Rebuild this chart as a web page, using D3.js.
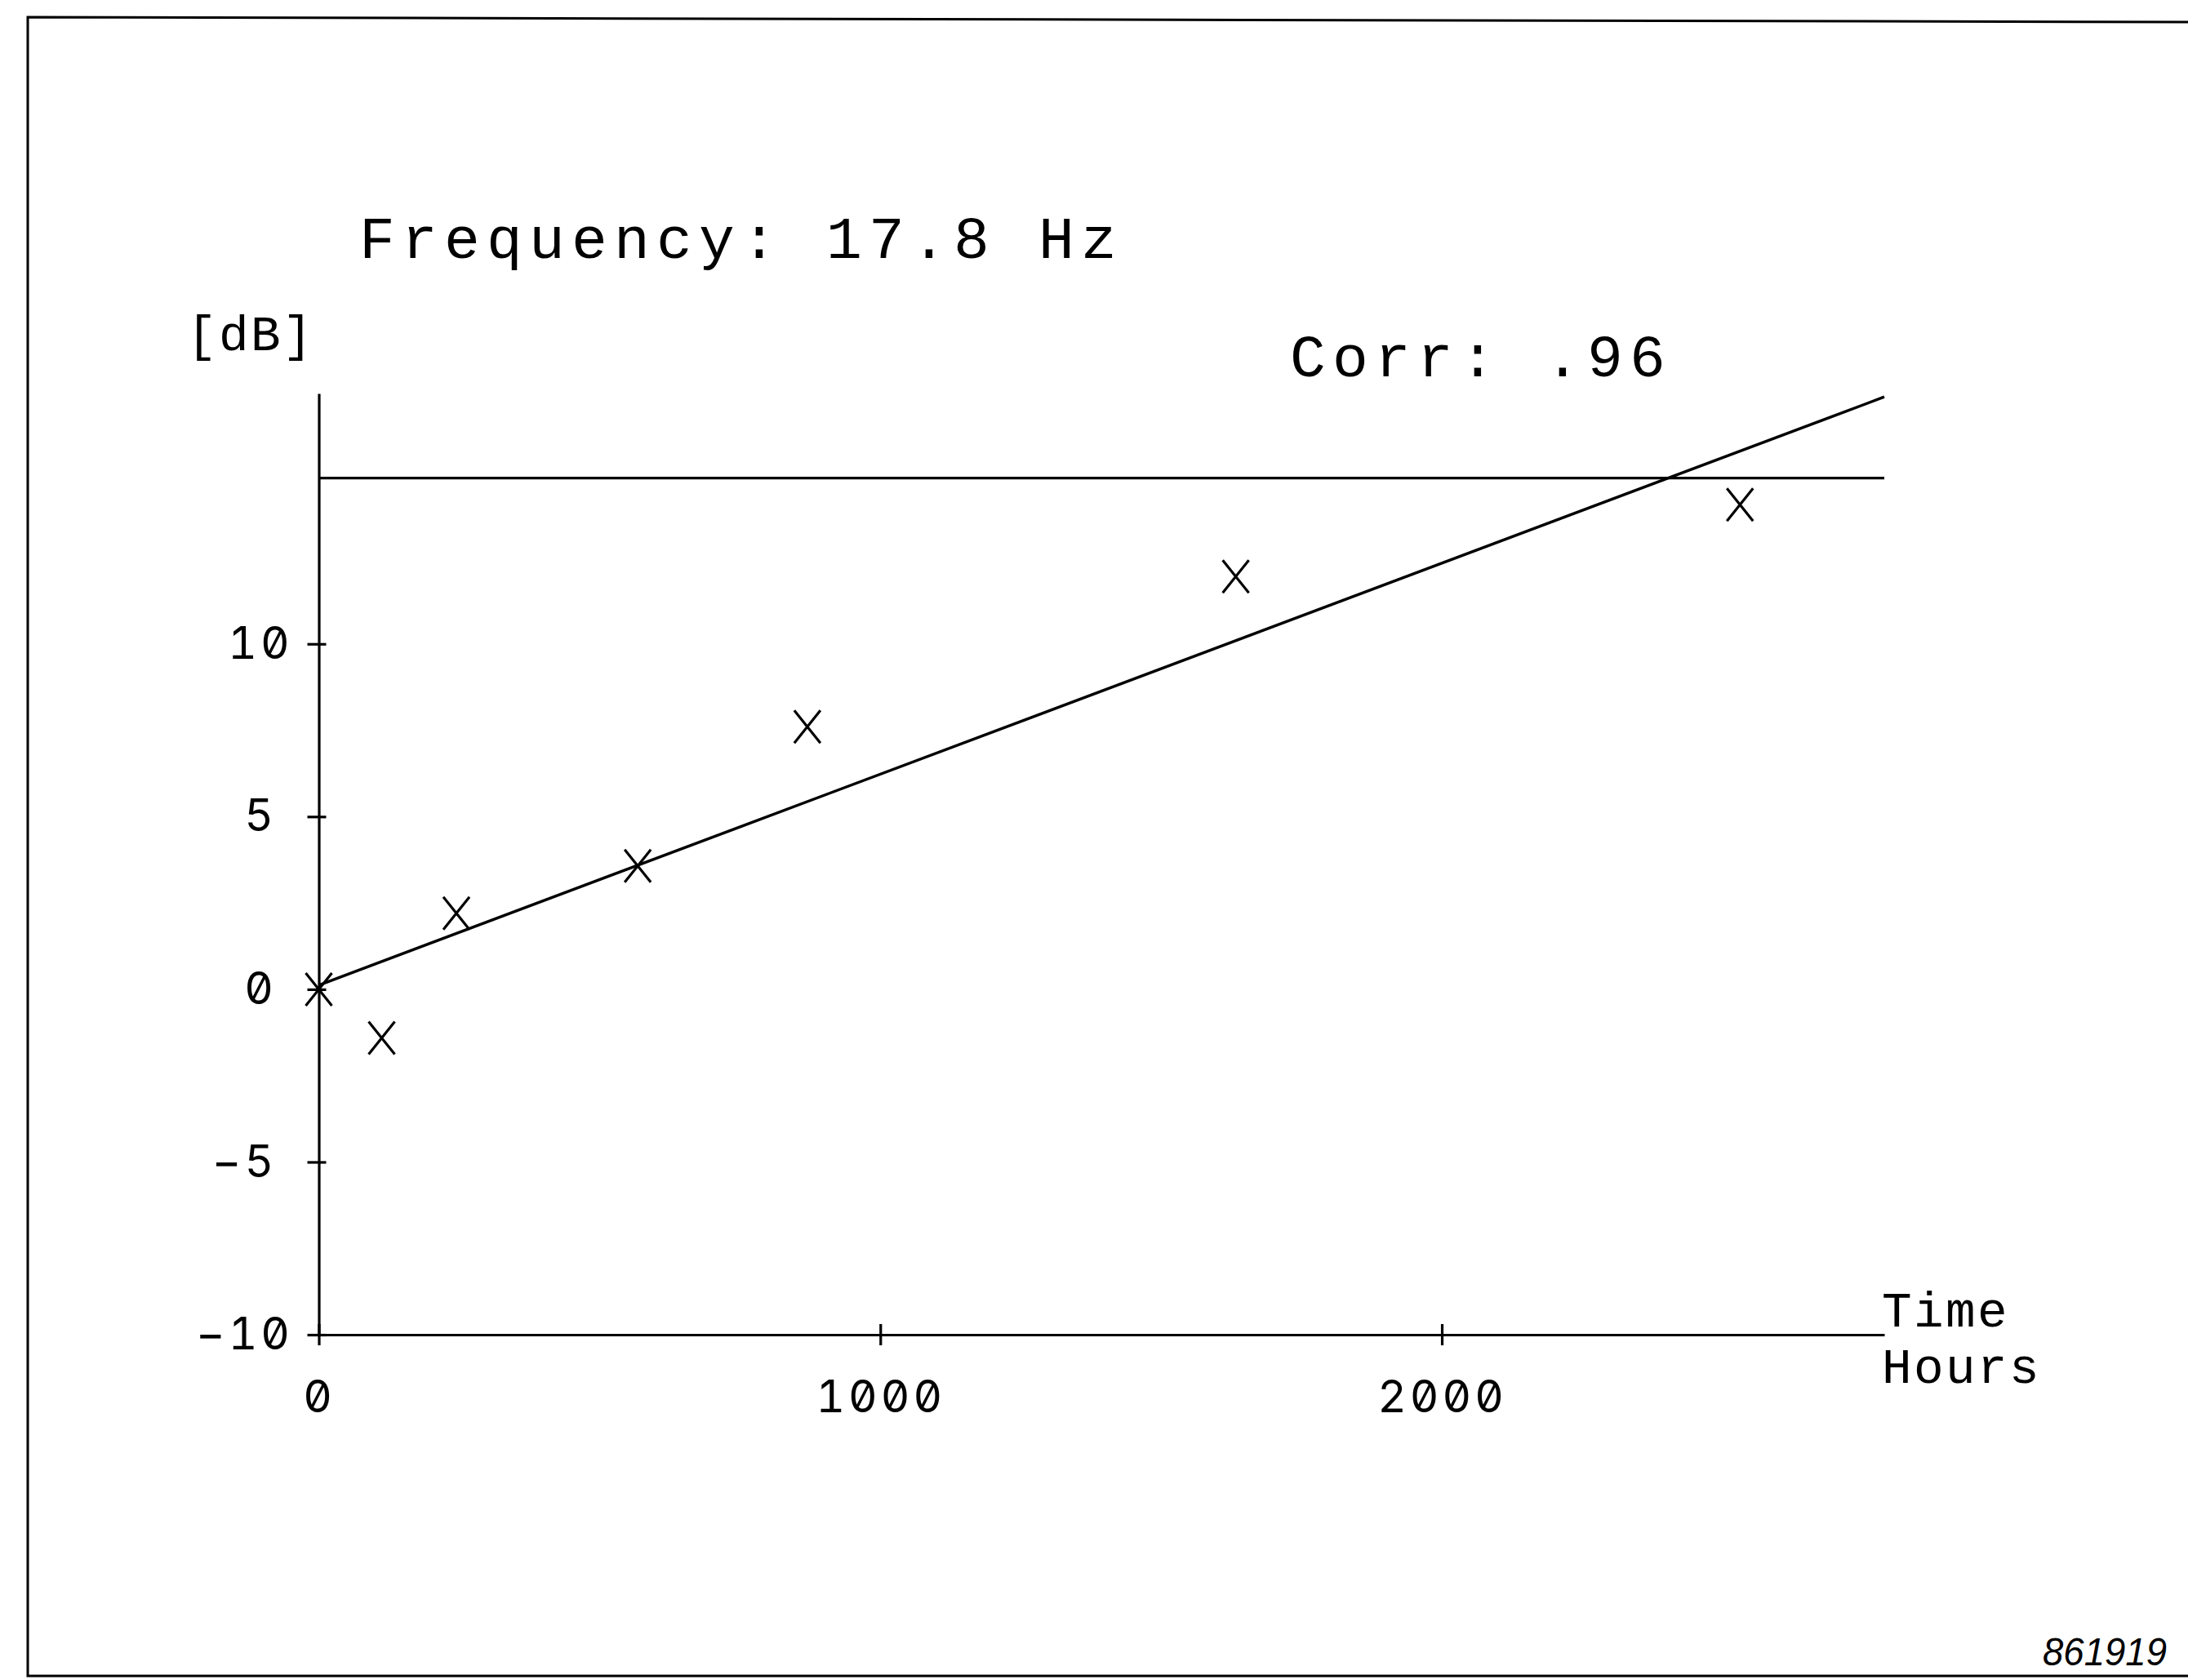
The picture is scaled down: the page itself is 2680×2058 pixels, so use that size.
<!DOCTYPE html>
<html>
<head>
<meta charset="utf-8">
<script src="https://cdn.jsdelivr.net/npm/d3@7"></script>
<style>
	body { margin: 0; background: #fff; }
	svg text { font-family: "Liberation Mono", "DejaVu Sans Mono", monospace; fill: #000; }
	svg .tick text { font-family: Inter, "Liberation Mono", monospace; font-feature-settings: "zero" 1, "tnum" 1; font-variant-numeric: slashed-zero tabular-nums; }
</style>
</head>
<body>
<div class="plot"></div>
<script>
//Measured points (hours, dB)
const hours = [0, 112, 245, 568, 870, 1633, 2531];
const dB = [0, -1.41, 2.2, 3.57, 7.6, 11.95, 14.03];

//Regression line end points + limit line
const fitHours = [0, 2788];
const fitdB = [0.12, 17.15];
const limitdB = 14.8;

//Axis extents and ticks
const xMax = 2788;
const yMin = -10;
const yMax = 17.25;
const xTicks = [0, 1000, 2000];
const yTicks = [-10, -5, 0, 5, 10];

//Texts
const title = 'Frequency: 17.8 Hz';
const corrLabel = 'Corr: .96';
const yUnit = '[dB]';
const xLabel = ['Time', 'Hours'];
const figId = '861919';

//Set SVG
const width = 2680;
const height = 2058;
const svg = d3.select('.plot')
	.append('svg')
	.attr('width', width)
	.attr('height', height)
	.style('display', 'block');

svg.append('rect').attr('width', width).attr('height', height).attr('fill', '#fff');

//Page frame
svg.append('path')
	.attr('d', 'M2680,27 L34,21 L34,2053 L2680,2053')
	.attr('fill', 'none')
	.attr('stroke', '#000')
	.attr('stroke-width', 3);

//Scales
const x = d3.scaleLinear().domain([0, xMax]).range([390.5, 2308]);
const y = d3.scaleLinear().domain([yMin, yMax]).range([1635, 482]);

//plotter style minus
const fmt = d => d < 0 ? '\u2212' + Math.abs(d) : String(d);

//Y axis
const yAxis = svg.append('g')
	.attr('transform', `translate(${x(0)},0)`)
	.call(d3.axisLeft(y).tickValues(yTicks).tickSizeInner(14).tickSizeOuter(0).tickFormat(fmt));
yAxis.selectAll('.tick line').attr('x1', 9);
//labels sit centred on the number, the minus sign hangs to the left
yAxis.selectAll('.tick text')
	.attr('text-anchor', 'middle')
	.attr('x', d => (319 - x(0)) - (d < 0 ? 19.5 : 0));

//X axis
const xAxis = svg.append('g')
	.attr('transform', `translate(0,${y(yMin)})`)
	.call(d3.axisBottom(x).tickValues(xTicks).tickSizeInner(13).tickSizeOuter(0).tickPadding(43).tickFormat(fmt));
xAxis.selectAll('.tick line').attr('y1', -13);

svg.selectAll('.domain, .tick line')
	.attr('stroke', '#000')
	.attr('stroke-width', 3.2);
svg.selectAll('.tick text')
	.attr('font-size', 55)
	.attr('letter-spacing', 4)
	.attr('fill', '#000');

//Limit line
svg.append('line')
	.attr('x1', x(0))
	.attr('x2', x(xMax))
	.attr('y1', y(limitdB))
	.attr('y2', y(limitdB))
	.attr('stroke', '#000')
	.attr('stroke-width', 3.2);

//Regression line
svg.append('line')
	.attr('x1', x(fitHours[0]))
	.attr('y1', y(fitdB[0]))
	.attr('x2', x(fitHours[1]))
	.attr('y2', y(fitdB[1]))
	.attr('stroke', '#000')
	.attr('stroke-width', 3.5);

//X markers
svg.selectAll('path.marker')
	.data(hours.map((h, i) => [h, dB[i]]))
	.enter()
	.append('path')
	.attr('class', 'marker')
	.attr('d', d => {
		const cx = x(d[0]), cy = y(d[1]);
		return `M${cx - 16},${cy - 20}L${cx + 16},${cy + 20}M${cx + 16},${cy - 20}L${cx - 16},${cy + 20}`;
	})
	.attr('fill', 'none')
	.attr('stroke', '#000')
	.attr('stroke-width', 3.2);

//Texts
svg.append('text')
	.attr('x', 440)
	.attr('y', 316)
	.attr('font-size', 73)
	.attr('letter-spacing', 8.2)
	.text(title);

svg.append('text')
	.attr('x', 1580)
	.attr('y', 461)
	.attr('font-size', 73)
	.attr('letter-spacing', 8.2)
	.text(corrLabel);

svg.append('text')
	.attr('x', 229)
	.attr('y', 429)
	.attr('font-size', 61)
	.attr('letter-spacing', 2.4)
	.text(yUnit);

svg.selectAll('text.xlabel')
	.data(xLabel)
	.enter()
	.append('text')
	.attr('class', 'xlabel')
	.attr('x', 2305)
	.attr('y', (d, i) => 1625 + i * 69)
	.attr('font-size', 61)
	.attr('letter-spacing', 2.4)
	.text(d => d);

svg.append('text')
	.attr('x', 2502)
	.attr('y', 2040)
	.attr('font-size', 48)
	.attr('textLength', 152)
	.attr('lengthAdjust', 'spacingAndGlyphs')
	.style('font-family', '"Liberation Sans", Arial, sans-serif')
	.style('font-style', 'italic')
	.text(figId);
</script>
</body>
</html>
